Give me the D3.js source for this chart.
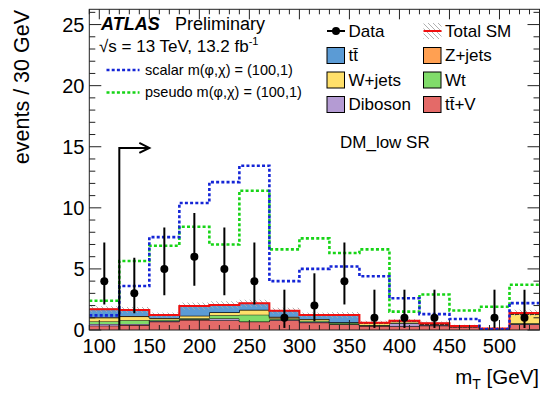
<!DOCTYPE html>
<html>
<head>
<meta charset="utf-8">
<script src="https://cdn.jsdelivr.net/npm/d3@7"></script>
<style>
  html, body { margin: 0; padding: 0; background: #fff; }
  svg { display: block; font-family: "Liberation Sans", Arimo, Arial, sans-serif; }
</style>
</head>
<body>
<svg id="chart" width="542" height="394"></svg>
<script>
// Bin edges of the transverse-mass histogram, 30 GeV bins
const binEdges = [90, 120, 150, 180, 210, 240, 270, 300, 330, 360, 390, 420, 450, 480, 510, 540];

// Stacked SM backgrounds, bottom to top (events per bin)
const ttV     = [0.35, 0.40, 0.68, 0.82, 0.80, 0.68, 0.80, 0.60, 0.45, 0.33, 0.30, 0.35, 0.25, 0.10, 0.45];
const diboson = [0.15, 0.10, 0.05, 0.05, 0.14, 0.02, 0.05, 0.05, 0.03, 0.02, 0.25, 0.05, 0.02, 0.00, 0.05];
const wt      = [0.20, 0.30, 0.10, 0.10, 0.27, 0.55, 0.10, 0.10, 0.10, 0.05, 0.05, 0.05, 0.03, 0.01, 0.05];
const wjets   = [0.30, 0.30, 0.15, 0.20, 0.24, 0.40, 0.10, 0.15, 0.05, 0.15, 0.10, 0.05, 0.03, 0.01, 0.75];
const zjets   = [0.05, 0.04, 0.00, 0.00, 0.00, 0.00, 0.03, 0.00, 0.00, 0.05, 0.00, 0.00, 0.00, 0.00, 0.02];
const ttbar   = [0.65, 0.50, 0.25, 0.79, 0.60, 0.53, 0.50, 0.33, 0.60, 0.00, 0.06, 0.05, 0.00, 0.00, 0.08];
// Total SM uncertainty (absolute, symmetric)
const totalUnc = [0.25, 0.25, 0.20, 0.30, 0.30, 0.30, 0.25, 0.20, 0.25, 0.15, 0.15, 0.15, 0.10, 0.10, 0.25];

// Signal benchmarks
const scalarSig = [1.2, 3.6, 7.6, 10.4, 12.1, 13.45, 4.0, 5.0, 5.2, 4.4, 2.6, 1.3, 0.9, 0.05, 2.2];
const pseudoSig = [2.4, 5.65, 6.9, 8.45, 7.0, 11.4, 6.6, 7.5, 6.3, 6.6, 1.5, 2.9, 1.6, 1.9, 3.7];

// Observed data with Poisson 68% intervals (null = empty bin, not drawn)
const dataObs  = [4, 3, 5, 6, 5, 4, 1, 2, 4, 1, 1, 1, null, 1, 1];
const dataLow  = [2.09, 1.37, 2.84, 3.62, 2.84, 2.09, 0.17, 0.71, 2.09, 0.17, 0.17, 0.17, null, 0.17, 0.17];
const dataHigh = [7.16, 5.92, 8.38, 9.58, 8.38, 7.16, 3.30, 4.64, 7.16, 3.30, 3.30, 3.30, null, 3.30, 3.30];

// Signal-region cut on mT
const cutValue = 120;
const cutArrowEnd = 150;
const cutArrowLevel = 14.9;

// Axis ticks
const yTickLabels = [0, 5, 10, 15, 20, 25];
const xTickLabels = [100, 150, 200, 250, 300, 350, 400, 450, 500];

const stackKeys = ["ttV", "diboson", "wt", "wjets", "zjets", "ttbar"];
const stackColors = {
  ttbar: "#5b9bd5", zjets: "#ffa052", wjets: "#ffe06a",
  wt: "#80dc6a", diboson: "#b49bd3", ttV: "#e46a68"
};

const svg = d3.select("#chart");
const x = d3.scaleLinear().domain([90, 540]).range([89.3, 539.5]);
const y = d3.scaleLinear().domain([0, 26.25]).range([330, 9.3]);
const [X0, X1] = x.range();
const [Y0, Y1] = y.range();

const defs = svg.append("defs");
defs.append("clipPath").attr("id", "frameClip")
  .append("rect").attr("x", X0).attr("y", Y1).attr("width", X1 - X0).attr("height", Y0 - Y1);
const hatch = defs.append("pattern").attr("id", "hatch")
  .attr("patternUnits", "userSpaceOnUse").attr("width", 5).attr("height", 5);
hatch.append("path").attr("d", "M-1,-1 L6,6 M-1,4 L1,6 M4,-1 L6,1")
  .attr("stroke", "#a8a8a8").attr("stroke-width", 0.9);

const nBins = binEdges.length - 1;
const rows = d3.range(nBins).map(i => ({
  ttV: ttV[i], diboson: diboson[i], wt: wt[i], wjets: wjets[i], zjets: zjets[i], ttbar: ttbar[i]
}));
const stacked = d3.stack().keys(stackKeys)(rows);
const totals = rows.map(r => stackKeys.reduce((s, k) => s + r[k], 0));

// Step geometry helpers
function stepPoints(lo, hi) {
  const pts = [];
  for (let i = 0; i < nBins; i++) {
    pts.push({ x: binEdges[i], y0: lo(i), y1: hi(i) });
    pts.push({ x: binEdges[i + 1], y0: lo(i), y1: hi(i) });
  }
  return pts;
}
const area = d3.area().x(d => x(d.x)).y0(d => y(d.y0)).y1(d => y(d.y1));
const topLine = d3.line().x(d => x(d.x)).y(d => y(d.y1));

const plot = svg.append("g").attr("clip-path", "url(#frameClip)");

// Stacked backgrounds
stacked.forEach(s => {
  const pts = stepPoints(i => s[i][0], i => s[i][1]);
  plot.append("path").attr("d", area(pts)).attr("fill", stackColors[s.key]);
  plot.append("path").attr("d", topLine(pts)).attr("fill", "none")
    .attr("stroke", "#000").attr("stroke-width", 1);
});

// Total SM uncertainty band and total line
plot.append("path")
  .attr("d", area(stepPoints(i => Math.max(0, totals[i] - totalUnc[i]), i => totals[i] + totalUnc[i])))
  .attr("fill", "url(#hatch)");
plot.append("path")
  .attr("d", topLine(stepPoints(() => 0, i => totals[i])))
  .attr("fill", "none").attr("stroke", "#f01010").attr("stroke-width", 2);

// Signal histograms
function sigLine(vals, color) {
  plot.append("path")
    .attr("d", topLine(stepPoints(() => 0, i => vals[i])))
    .attr("fill", "none").attr("stroke", color).attr("stroke-width", 2.6)
    .attr("stroke-dasharray", "3,2.2");
}
sigLine(pseudoSig, "#16d416");
sigLine(scalarSig, "#1425d6");

// Data points with error bars
const centers = d3.range(nBins).map(i => (binEdges[i] + binEdges[i + 1]) / 2);
const pts = d3.range(nBins).filter(i => dataObs[i] !== null);
plot.selectAll(".err").data(pts).join("line")
  .attr("x1", i => x(centers[i])).attr("x2", i => x(centers[i]))
  .attr("y1", i => y(dataLow[i])).attr("y2", i => y(dataHigh[i]))
  .attr("stroke", "#000").attr("stroke-width", 2);
plot.selectAll(".pt").data(pts).join("circle")
  .attr("cx", i => x(centers[i])).attr("cy", i => y(dataObs[i])).attr("r", 4)
  .attr("fill", "#000");

// Cut arrow
svg.append("path")
  .attr("d", `M${x(cutValue)},${y(0)} L${x(cutValue)},${y(cutArrowLevel)} L${x(cutArrowEnd)},${y(cutArrowLevel)}`)
  .attr("fill", "none").attr("stroke", "#000").attr("stroke-width", 2);
svg.append("path")
  .attr("d", `M${x(cutArrowEnd) - 10},${y(cutArrowLevel) - 5} L${x(cutArrowEnd)},${y(cutArrowLevel)} L${x(cutArrowEnd) - 10},${y(cutArrowLevel) + 5}`)
  .attr("fill", "none").attr("stroke", "#000").attr("stroke-width", 2);

// Frame and ticks
svg.append("rect").attr("x", X0).attr("y", Y1).attr("width", X1 - X0).attr("height", Y0 - Y1)
  .attr("fill", "none").attr("stroke", "#222").attr("stroke-width", 1);

const axes = svg.append("g").attr("stroke", "#222").attr("stroke-width", 1);
d3.range(90, 541, 10).forEach(v => {
  const len = v % 50 === 0 ? 10 : 5;
  axes.append("line").attr("x1", x(v)).attr("x2", x(v)).attr("y1", Y0).attr("y2", Y0 - len);
  axes.append("line").attr("x1", x(v)).attr("x2", x(v)).attr("y1", Y1).attr("y2", Y1 + len);
});
d3.range(0, 27, 1).forEach(v => {
  const len = v % 5 === 0 ? 12 : 6;
  axes.append("line").attr("x1", X0).attr("x2", X0 + len).attr("y1", y(v)).attr("y2", y(v));
  axes.append("line").attr("x1", X1).attr("x2", X1 - len).attr("y1", y(v)).attr("y2", y(v));
});

// Tick labels
svg.selectAll(".ylab").data(yTickLabels).join("text")
  .attr("x", 84.5).attr("y", d => y(d) + 7).attr("text-anchor", "end")
  .attr("font-size", 20).text(d => d);
svg.selectAll(".xlab").data(xTickLabels).join("text")
  .attr("x", d => x(d)).attr("y", 352.5).attr("text-anchor", "middle")
  .attr("font-size", 20).text(d => d);

// Axis titles
svg.append("text").attr("transform", "translate(28.5,10) rotate(-90)")
  .attr("text-anchor", "end").attr("font-size", 21.5).text("events / 30 GeV");
const xt = svg.append("text").attr("x", 539).attr("y", 384).attr("text-anchor", "end").attr("font-size", 20.5);
xt.append("tspan").text("m");
xt.append("tspan").attr("font-size", 14).attr("dy", 5).text("T");
xt.append("tspan").attr("dy", -5).text(" [GeV]");

// ATLAS label
svg.append("text").attr("x", 101).attr("y", 29.5).attr("font-size", 18)
  .attr("font-weight", "bold").attr("font-style", "italic").text("ATLAS");
svg.append("text").attr("x", 175).attr("y", 29.5).attr("font-size", 18).text("Preliminary");
const lumi = svg.append("text").attr("x", 99).attr("y", 51.5).attr("font-size", 17);
lumi.append("tspan").text("√s = 13 TeV, 13.2 fb");
lumi.append("tspan").attr("font-size", 11).attr("dy", -7).text("-1");

// Signal legend
[["scalar m(φ,χ) = (100,1)", "#1425d6", 70, 74.5],
 ["pseudo m(φ,χ) = (100,1)", "#16d416", 92.5, 97]].forEach(([label, color, ly, ty]) => {
  svg.append("line").attr("x1", 106.5).attr("x2", 139.5).attr("y1", ly).attr("y2", ly)
    .attr("stroke", color).attr("stroke-width", 2.6).attr("stroke-dasharray", "3,2.2");
  svg.append("text").attr("x", 145).attr("y", ty).attr("font-size", 14.5).text(label);
});

// Background legend
const leg = svg.append("g").attr("font-size", 17);
leg.append("line").attr("x1", 327).attr("x2", 345).attr("y1", 31).attr("y2", 31)
  .attr("stroke", "#000").attr("stroke-width", 2);
leg.append("circle").attr("cx", 336).attr("cy", 31).attr("r", 4).attr("fill", "#000");
leg.append("text").attr("x", 348.5).attr("y", 36.5).text("Data");
leg.append("rect").attr("x", 423.5).attr("y", 23).attr("width", 18).attr("height", 16).attr("fill", "url(#hatch)");
leg.append("line").attr("x1", 423.5).attr("x2", 441.5).attr("y1", 31).attr("y2", 31)
  .attr("stroke", "#f01010").attr("stroke-width", 2);
leg.append("text").attr("x", 445).attr("y", 36.5).text("Total SM");

const legEntries = [
  ["ttbar", "tt̄", 0, 0], ["zjets", "Z+jets", 1, 0],
  ["wjets", "W+jets", 0, 1], ["wt", "Wt", 1, 1],
  ["diboson", "Diboson", 0, 2], ["ttV", "tt̄+V", 1, 2]
];
legEntries.forEach(([key, label, col, row]) => {
  const bx = col === 0 ? 327 : 423.5;
  const by = 47.5 + row * 24.5;
  leg.append("rect").attr("x", bx).attr("y", by).attr("width", 17.5).attr("height", 16)
    .attr("fill", stackColors[key]).attr("stroke", "#000").attr("stroke-width", 1);
  leg.append("text").attr("x", bx + 21.5).attr("y", by + 13.5).text(label);
});

// Region label
svg.append("text").attr("x", 340).attr("y", 148).attr("font-size", 17).text("DM_low SR");
</script>
</body>
</html>
